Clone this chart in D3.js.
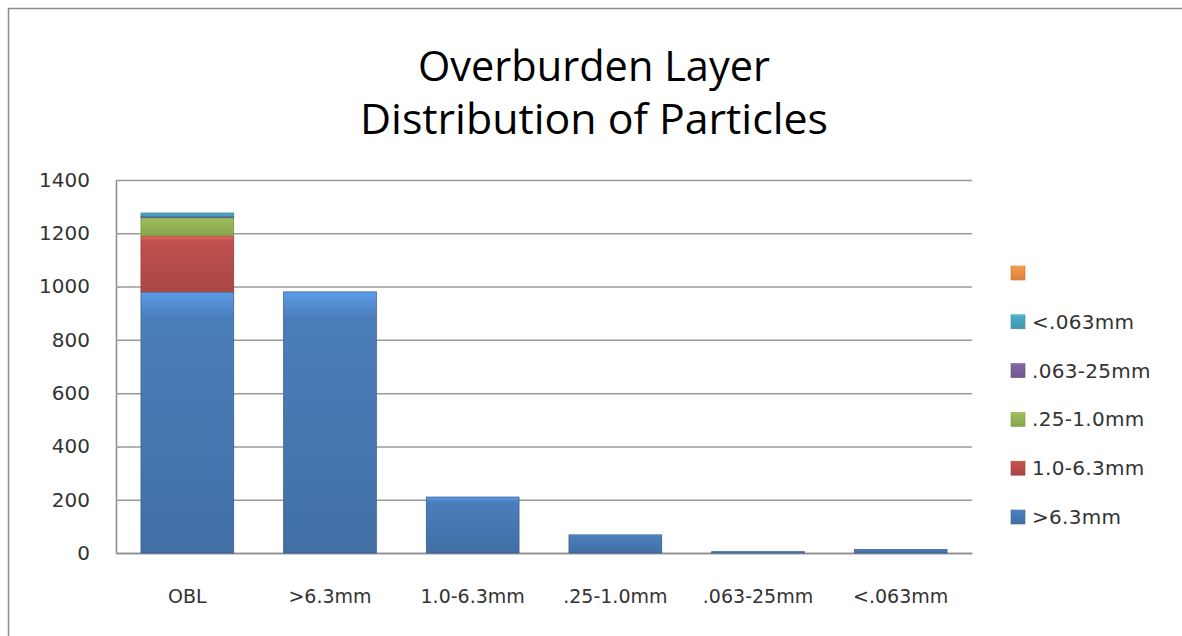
<!DOCTYPE html>
<html>
<head>
<meta charset="utf-8">
<script src="https://cdn.jsdelivr.net/npm/d3@7"></script>
<style>
  body { margin: 0; background: #fff; }
</style>
</head>
<body>
<svg id="chart" width="1182" height="636"></svg>
<script>
// chart data
const categories = ["OBL", ">6.3mm", "1.0-6.3mm", ".25-1.0mm", ".063-25mm", "<.063mm"];
const seriesNames = [">6.3mm", "1.0-6.3mm", ".25-1.0mm", ".063-25mm", "<.063mm", ""];
const coarse = [980, 980, 210, 68, 5, 13];
const medium = [210, 0, 0, 0, 0, 0];
const fine = [68, 0, 0, 0, 0, 0];
const veryFine = [5, 0, 0, 0, 0, 0];
const silt = [13, 0, 0, 0, 0, 0];
const unnamed = [0, 0, 0, 0, 0, 0];
const yTicks = [0, 200, 400, 600, 800, 1000, 1200, 1400];
const titleLines = ["Overburden Layer", "Distribution of Particles"];
const colors = ["#4a7ebb", "#c0504d", "#9bbb59", "#8064a2", "#4bacc6", "#f79646"];

const seriesValues = [coarse, medium, fine, veryFine, silt, unnamed];
const rows = categories.map((c, i) => {
  const r = { cat: c };
  seriesNames.forEach((s, j) => r["s" + j] = seriesValues[j][i]);
  return r;
});
const keys = seriesNames.map((s, j) => "s" + j);

const margin = { top: 180, left: 116 };
const innerWidth = 856;
const innerHeight = 373;
const labelFont = "'DejaVu Sans', Verdana, sans-serif";

const svg = d3.select("#chart");

// outer frame
svg.append("path")
  .attr("d", "M8.5,636 L8.5,8.5 L1182,8.5")
  .attr("fill", "none")
  .attr("stroke", "#8c8c8c")
  .attr("stroke-width", 1.5);

// title
const titleWidths = [352, 468];
svg.selectAll(".title")
  .data(titleLines)
  .join("text")
  .attr("class", "title")
  .attr("x", 594)
  .attr("y", (d, i) => 81 + i * 53)
  .attr("text-anchor", "middle")
  .attr("textLength", (d, i) => titleWidths[i])
  .attr("lengthAdjust", "spacingAndGlyphs")
  .attr("fill", "#000")
  .style("font-family", "'Open Sans', sans-serif")
  .style("font-weight", 500)
  .style("font-size", "42px")
  .text(d => d);

// gradients for the bevelled look
const defs = svg.append("defs");
colors.forEach((c, i) => {
  const g = defs.append("linearGradient")
    .attr("id", "grad" + i)
    .attr("x1", 0).attr("y1", 0).attr("x2", 0).attr("y2", 1);
  g.append("stop").attr("offset", "0%").attr("stop-color", d3.color(c).brighter(0.6));
  g.append("stop").attr("offset", "10%").attr("stop-color", c);
  g.append("stop").attr("offset", "100%").attr("stop-color", d3.color(c).darker(0.35));
});

const g = svg.append("g")
  .attr("transform", `translate(${margin.left}, ${margin.top})`);

const xScale = d3.scaleBand()
  .domain(categories)
  .range([0, innerWidth])
  .paddingInner(0.35)
  .paddingOuter(0.175);

const yScale = d3.scaleLinear()
  .domain([0, 1400])
  .range([innerHeight, 0]);

// grid + y axis
const yAxis = d3.axisLeft(yScale)
  .tickValues(yTicks)
  .tickFormat(d3.format("d"))
  .tickSizeInner(-innerWidth)
  .tickSizeOuter(0)
  .tickPadding(26);

const yG = g.append("g").call(yAxis);
yG.select(".domain").attr("stroke", "#8c8c8c").attr("stroke-width", 1.5);
yG.selectAll("line").attr("stroke", "#9a9a9a").attr("stroke-width", 1.5);
yG.selectAll("text")
  .style("font-family", labelFont)
  .style("font-size", "20px")
  .attr("fill", "#333");

// x axis labels
const xAxis = d3.axisBottom(xScale).tickSize(0).tickPadding(37);
const xG = g.append("g")
  .attr("transform", `translate(0, ${innerHeight})`)
  .call(xAxis);
xG.select(".domain").attr("stroke", "#8c8c8c").attr("stroke-width", 1.5);
xG.selectAll("text")
  .style("font-family", labelFont)
  .style("font-size", "19px")
  .attr("fill", "#333");

// stacked bars
const stacked = d3.stack().keys(keys)(rows);
g.selectAll(".layer")
  .data(stacked)
  .join("g")
  .attr("class", "layer")
  .attr("fill", (d, i) => `url(#grad${i})`)
  .attr("stroke", (d, i) => d3.color(colors[i]).darker(0.7))
  .attr("stroke-width", 0.8)
  .selectAll("rect")
  .data(d => d.filter(p => p[1] - p[0] > 0))
  .join("rect")
  .attr("x", d => xScale(d.data.cat))
  .attr("width", xScale.bandwidth())
  .attr("y", d => yScale(d[1]))
  .attr("height", d => yScale(d[0]) - yScale(d[1]));

// legend (reversed order like the reference)
const legendItems = seriesNames.map((n, i) => ({ name: n, color: colors[i], i })).reverse();
const legend = svg.append("g").attr("transform", "translate(1011, 273)");
const li = legend.selectAll("g")
  .data(legendItems)
  .join("g")
  .attr("transform", (d, k) => `translate(0, ${k * 48.8})`);
li.append("rect")
  .attr("x", 0).attr("y", -7)
  .attr("width", 14).attr("height", 14)
  .attr("fill", d => `url(#grad${d.i})`)
  .attr("stroke", d => d3.color(d.color).darker(0.6))
  .attr("stroke-width", 0.6);
li.filter(d => d.name !== "").append("text")
  .attr("x", 21)
  .attr("dy", "0.35em")
  .attr("fill", "#333")
  .style("font-family", labelFont)
  .style("font-size", "20px")
  .style("letter-spacing", "0.3px")
  .text(d => d.name);
</script>
</body>
</html>
